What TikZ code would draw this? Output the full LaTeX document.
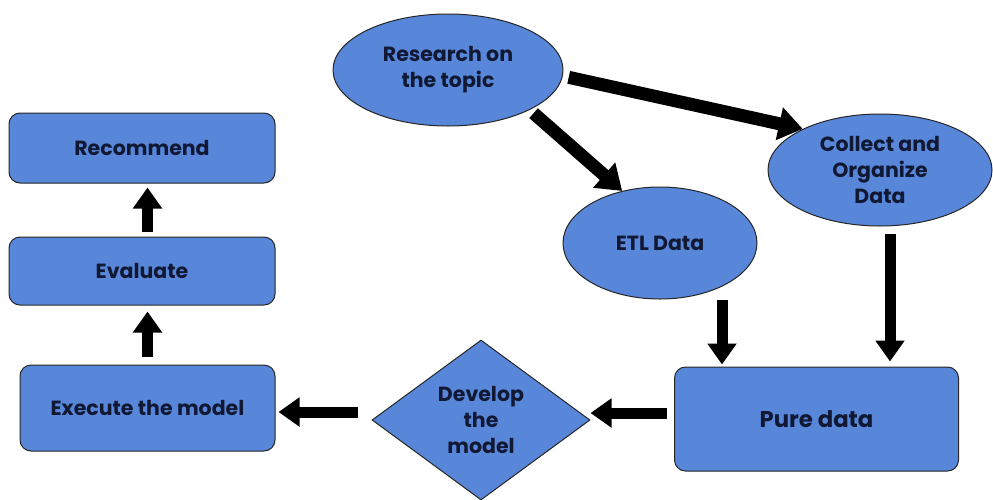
\documentclass[tikz,border=0pt]{standalone}
\usepackage{fontspec}
\setmainfont{Poppins}
\usetikzlibrary{shapes.geometric,arrows.meta}
\definecolor{boxblue}{HTML}{5887DA}
\definecolor{txtnavy}{HTML}{111833}
\tikzset{
  base/.style={draw=black!85, line width=1pt, fill=boxblue, text=txtnavy, align=center, inner sep=0pt,
    font=\bfseries\fontsize{20.5}{26}\selectfont},
  oval/.style={base, ellipse},
  roundbox/.style={base, rectangle, rounded corners=11pt},
  decision/.style={base, diamond},
  arr/.style={line width=11pt, -{Triangle[width=28pt,length=21pt]}, black},
  thickarr/.style={line width=13pt, -{Triangle[width=32pt,length=24pt]}, black}
}
\begin{document}
\begin{tikzpicture}[x=1pt,y=-1pt]
\useasboundingbox (0,0) rectangle (993,499);
\node[oval, minimum width=230pt, minimum height=112pt] (res) at (448,70) {Research on\\the topic};
\node[oval, minimum width=224pt, minimum height=112pt] (col) at (880,170) {Collect and\\Organize\\Data};
\node[oval, minimum width=194pt, minimum height=112pt] (etl) at (660,243) {ETL Data};
\node[roundbox, minimum width=266pt, minimum height=70pt] (rec) at (142,148) {Recommend};
\node[roundbox, minimum width=266pt, minimum height=68pt] (eval) at (142,271) {Evaluate};
\node[roundbox, minimum width=255pt, minimum height=86pt] (exe) at (147.5,408) {Execute the model};
\node[roundbox, minimum width=284pt, minimum height=104pt, font=\bfseries\fontsize{22.8}{26}\selectfont] (pure) at (816.5,419) {Pure data};
\node[decision, minimum width=218pt, minimum height=160pt] (dev) at (481,420) {Develop\\the\\model};

\draw[thickarr, shorten <=5pt] (res.-26) -- (etl.126);
\draw[thickarr, shorten <=6pt] (res.-3) -- (col.152);
\draw[arr, shorten >=2pt] ([xshift=62pt]etl.south) -- ([xshift=-94.5pt]pure.north);
\draw[arr, shorten <=7pt, shorten >=5pt] ([xshift=10pt]col.south) -- ([xshift=73.5pt]pure.north);
\draw[arr, shorten <=7pt] ([yshift=6pt]pure.west) -- ([yshift=7pt]dev.east);
\draw[arr, shorten <=14pt, shorten >=3pt] ([yshift=8pt]dev.west) -- ([yshift=-4pt]exe.east);
\draw[arr, shorten <=8pt, shorten >=6pt] (exe.north) -- (eval.south -| exe.north);
\draw[arr, shorten <=5pt, shorten >=4pt] ([xshift=5.5pt]eval.north) -- ([xshift=5.5pt]rec.south);
\end{tikzpicture}
\end{document}
